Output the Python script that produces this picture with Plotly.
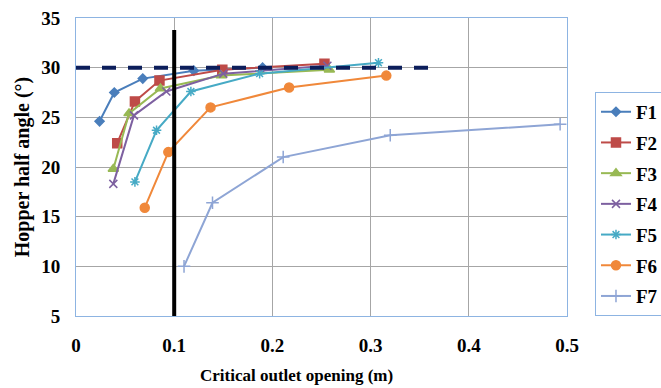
import plotly.graph_objects as go

series_names = ["F1", "F2", "F3", "F4", "F5", "F6", "F7"]
x_values = [
    [0.024, 0.039, 0.068, 0.120, 0.19],
    [0.042, 0.060, 0.085, 0.149, 0.253],
    [0.038, 0.054, 0.086, 0.148, 0.258],
    [0.038, 0.059, 0.092, 0.150, 0.256],
    [0.060, 0.082, 0.117, 0.187, 0.308],
    [0.070, 0.094, 0.137, 0.217, 0.316],
    [0.110, 0.139, 0.211, 0.320, 0.493],
]
y_values = [
    [24.6, 27.5, 28.9, 29.7, 30.0],
    [22.4, 26.6, 28.7, 29.8, 30.4],
    [19.8, 25.4, 27.9, 29.2, 29.8],
    [18.3, 25.2, 27.6, 29.4, 30.2],
    [18.5, 23.7, 27.6, 29.4, 30.5],
    [15.9, 21.5, 26.0, 28.0, 29.2],
    [10.0, 16.4, 21.0, 23.2, 24.3],
]
threshold_angle = 30
threshold_x_end = 0.36
critical_opening = 0.1
critical_line_top = 33.8
x_ticks = [0, 0.1, 0.2, 0.3, 0.4, 0.5]
x_tick_labels = ["0", "0.1", "0.2", "0.3", "0.4", "0.5"]
y_ticks = [5, 10, 15, 20, 25, 30, 35]

colors = ["#4A7EBB", "#BE4B48", "#98B954", "#7D60A0", "#46AAC5", "#F0883A", "#8EA5D5"]
symbols = ["diamond", "square", "triangle-up", "x-thin-open", "asterisk-open", "circle", "cross-thin-open"]
sizes = [7, 9, 9, 8, 8, 9, 9]

FONT = "Liberation Serif"

fig = go.Figure()
for i, name in enumerate(series_names):
    fig.add_trace(go.Scatter(
        x=x_values[i], y=y_values[i], name=name, mode="lines+markers",
        legendgroup=name,
        line=dict(color=colors[i], width=2),
        marker=dict(symbol=symbols[i], size=sizes[i], color=colors[i],
                    line=dict(color=colors[i], width=1.5)),
    ))

fig.add_shape(type="line", xref="x", yref="y", x0=0, x1=threshold_x_end,
              y0=threshold_angle, y1=threshold_angle,
              line=dict(color="#0C1E5B", width=4, dash="14px,12px"))
fig.add_shape(type="line", xref="x", yref="y", x0=critical_opening, x1=critical_opening,
              y0=5, y1=critical_line_top, line=dict(color="black", width=4))

fig.update_layout(
    width=661, height=388,
    margin=dict(l=76, r=94, t=18, b=72, autoexpand=False),
    paper_bgcolor="white", plot_bgcolor="white",
    font=dict(family=FONT, size=16, color="black"),
    showlegend=True,
    legend=dict(
        x=1.057, y=0.752, xanchor="left", yanchor="top",
        bordercolor="#8DB4E2", borderwidth=1, bgcolor="white",
        font=dict(family=FONT, size=19, color="black", weight="bold"),
        tracegroupgap=3, itemwidth=30,
    ),
    annotations=[
        dict(text="<b>Critical outlet opening (m)</b>", xref="paper", yref="paper",
             x=0.45, y=-0.2, xanchor="center", yanchor="middle", showarrow=False,
             font=dict(family=FONT, size=17)),
    ],
)
fig.update_xaxes(
    range=[0, 0.5], tickvals=x_ticks, ticktext=x_tick_labels,
    showgrid=True, gridcolor="#A6A6A6", gridwidth=1,
    showline=True, linecolor="#8DB4E2", linewidth=1, mirror=True,
    zeroline=False, ticks="", ticklabelstandoff=12, automargin=False,
    tickfont=dict(family=FONT, size=19, weight="bold"),
)
fig.update_yaxes(
    range=[5, 35], tickvals=y_ticks,
    showgrid=True, gridcolor="#A6A6A6", gridwidth=1,
    showline=True, linecolor="#8DB4E2", linewidth=1, mirror=True,
    zeroline=False, ticks="", ticklabelstandoff=11, automargin=False,
    tickfont=dict(family=FONT, size=19, weight="bold"),
    title=dict(text="<b>Hopper half angle (°)</b>", font=dict(family=FONT, size=20), standoff=6),
)

fig.write_html("out.html", config={"displayModeBar": False},
               post_script="document.body.style.margin='0';document.body.style.overflow='hidden';")
